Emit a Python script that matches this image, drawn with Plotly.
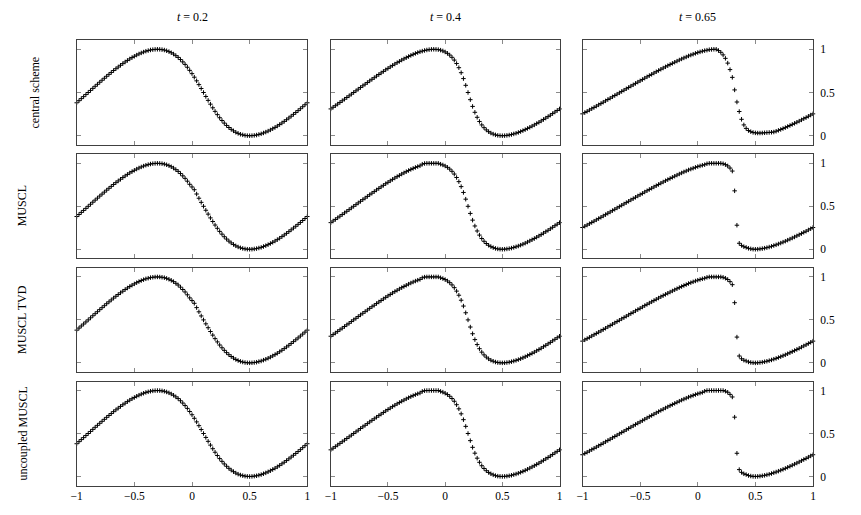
import plotly.graph_objects as go

# ---------------- data ----------------
X = [-1.00, -0.98, -0.96, -0.94, -0.92, -0.90, -0.88, -0.86, -0.84, -0.82,
     -0.80, -0.78, -0.76, -0.74, -0.72, -0.70, -0.68, -0.66, -0.64, -0.62,
     -0.60, -0.58, -0.56, -0.54, -0.52, -0.50, -0.48, -0.46, -0.44, -0.42,
     -0.40, -0.38, -0.36, -0.34, -0.32, -0.30, -0.28, -0.26, -0.24, -0.22,
     -0.20, -0.18, -0.16, -0.14, -0.12, -0.10, -0.08, -0.06, -0.04, -0.02,
     0.00, 0.02, 0.04, 0.06, 0.08, 0.10, 0.12, 0.14, 0.16, 0.18,
     0.20, 0.22, 0.24, 0.26, 0.28, 0.30, 0.32, 0.34, 0.36, 0.38,
     0.40, 0.42, 0.44, 0.46, 0.48, 0.50, 0.52, 0.54, 0.56, 0.58,
     0.60, 0.62, 0.64, 0.66, 0.68, 0.70, 0.72, 0.74, 0.76, 0.78,
     0.80, 0.82, 0.84, 0.86, 0.88, 0.90, 0.92, 0.94, 0.96, 0.98,
     1.00]

U_T02 = [0.381, 0.405, 0.429, 0.452, 0.476, 0.500, 0.524, 0.548, 0.572, 0.595,
         0.619, 0.642, 0.665, 0.688, 0.710, 0.732, 0.754, 0.775, 0.795, 0.815,
         0.834, 0.853, 0.871, 0.888, 0.904, 0.919, 0.933, 0.946, 0.958, 0.968,
         0.978, 0.985, 0.992, 0.996, 0.999, 1.000, 0.999, 0.996, 0.991, 0.983,
         0.973, 0.960, 0.945, 0.926, 0.906, 0.881, 0.854, 0.825, 0.792, 0.756,
         0.718, 0.677, 0.635, 0.591, 0.546, 0.500, 0.454, 0.409, 0.365, 0.323,
         0.282, 0.244, 0.208, 0.176, 0.146, 0.119, 0.095, 0.074, 0.056, 0.040,
         0.027, 0.017, 0.010, 0.004, 0.001, 0.000, 0.001, 0.004, 0.008, 0.015,
         0.022, 0.032, 0.042, 0.054, 0.067, 0.081, 0.096, 0.112, 0.129, 0.147,
         0.166, 0.185, 0.205, 0.226, 0.247, 0.268, 0.290, 0.312, 0.335, 0.358,
         0.381]

U_T04 = [0.310, 0.329, 0.347, 0.366, 0.385, 0.404, 0.423, 0.442, 0.461, 0.481,
         0.500, 0.519, 0.539, 0.558, 0.577, 0.596, 0.615, 0.634, 0.653, 0.671,
         0.690, 0.708, 0.726, 0.744, 0.762, 0.779, 0.796, 0.813, 0.829, 0.845,
         0.860, 0.875, 0.889, 0.903, 0.916, 0.929, 0.941, 0.952, 0.962, 0.971,
         0.979, 0.986, 0.992, 0.996, 0.999, 1.000, 0.999, 0.996, 0.990, 0.981,
         0.969, 0.953, 0.933, 0.907, 0.875, 0.835, 0.787, 0.729, 0.661, 0.583,
         0.500, 0.417, 0.339, 0.271, 0.213, 0.165, 0.125, 0.093, 0.067, 0.047,
         0.031, 0.019, 0.010, 0.004, 0.001, 0.000, 0.001, 0.004, 0.008, 0.014,
         0.021, 0.029, 0.038, 0.048, 0.059, 0.071, 0.084, 0.097, 0.111, 0.125,
         0.140, 0.155, 0.171, 0.188, 0.204, 0.221, 0.238, 0.256, 0.274, 0.292,
         0.310]

U_T065 = [0.253, 0.268, 0.282, 0.297, 0.312, 0.327, 0.342, 0.357, 0.372, 0.388,
          0.403, 0.419, 0.434, 0.450, 0.465, 0.481, 0.496, 0.512, 0.527, 0.543,
          0.558, 0.574, 0.589, 0.605, 0.620, 0.635, 0.650, 0.666, 0.681, 0.696,
          0.710, 0.725, 0.740, 0.754, 0.769, 0.783, 0.797, 0.810, 0.824, 0.837,
          0.850, 0.863, 0.876, 0.888, 0.900, 0.911, 0.923, 0.933, 0.943, 0.953,
          0.962, 0.970, 0.978, 0.984, 0.990, 0.995, 0.998, 1.000, 1.000, 0.997,
          0.992, 0.984, 0.971, 0.951, 0.921, 0.871, 0.759, 0.170, 0.101, 0.062,
          0.038, 0.022, 0.011, 0.005, 0.001, 0.000, 0.001, 0.004, 0.008, 0.013,
          0.019, 0.026, 0.034, 0.043, 0.052, 0.062, 0.072, 0.083, 0.094, 0.106,
          0.118, 0.131, 0.143, 0.156, 0.169, 0.183, 0.197, 0.210, 0.225, 0.239,
          0.253]

# scheme-specific values where the rows differ (x -> u)
MUSCL_T02 = {0.00: 0.725, 0.02: 0.693, 0.04: 0.643, 0.06: 0.594}
CENTRAL_T065 = {0.18: 0.985, 0.20: 0.965, 0.22: 0.935, 0.24: 0.895, 0.26: 0.840,
                0.28: 0.765, 0.30: 0.675, 0.32: 0.530, 0.34: 0.390, 0.36: 0.280,
                0.38: 0.190, 0.40: 0.125, 0.42: 0.085, 0.44: 0.060, 0.46: 0.047,
                0.48: 0.038, 0.50: 0.033, 0.52: 0.031, 0.54: 0.031, 0.56: 0.032,
                0.58: 0.034, 0.60: 0.036, 0.62: 0.038, 0.64: 0.040}
MUSCL_T04 = {-0.20: 0.990, -0.18: 0.998, -0.16: 1.000, -0.14: 1.000, -0.12: 1.000,
             -0.10: 1.000, -0.08: 1.000, -0.06: 1.000}
MUSCL_T065 = {0.08: 0.995, 0.10: 1.000, 0.12: 1.000, 0.14: 1.000, 0.16: 1.000,
              0.18: 1.000, 0.20: 1.000, 0.22: 0.995, 0.24: 0.985, 0.26: 0.970,
              0.28: 0.945, 0.30: 0.910, 0.32: 0.680, 0.34: 0.280, 0.36: 0.070,
              0.38: 0.045, 0.40: 0.030}
TVD_T065 = {0.08: 0.995, 0.10: 1.000, 0.12: 1.000, 0.14: 1.000, 0.16: 1.000,
            0.18: 1.000, 0.20: 1.000, 0.22: 0.995, 0.24: 0.985, 0.26: 0.970,
            0.28: 0.945, 0.30: 0.910, 0.32: 0.700, 0.34: 0.300, 0.36: 0.080,
            0.38: 0.048, 0.40: 0.031}
UNCOUPLED_T065 = {0.06: 0.992, 0.08: 1.000, 0.10: 1.000, 0.12: 1.000, 0.14: 1.000,
                  0.16: 1.000, 0.18: 1.000, 0.20: 1.000, 0.22: 1.000, 0.24: 0.992,
                  0.26: 0.980, 0.28: 0.955, 0.30: 0.925, 0.32: 0.690, 0.34: 0.270,
                  0.36: 0.080, 0.38: 0.048, 0.40: 0.031}

ROW_LABELS = ["central scheme", "MUSCL", "MUSCL TVD", "uncoupled MUSCL"]
COL_TITLES = ["<i>t</i> = 0.2", "<i>t</i> = 0.4", "<i>t</i> = 0.65"]
X_TICKS = [-1, -0.5, 0, 0.5, 1]
X_TICK_TEXT = ["\u22121", "\u22120.5", "0", "0.5", "1"]
Y_TICKS = [0, 0.5, 1]
Y_TICK_TEXT = ["0", "0.5", "1"]

BASE = [U_T02, U_T04, U_T065]
OVERRIDES = [
    [{}, {}, CENTRAL_T065],
    [MUSCL_T02, MUSCL_T04, MUSCL_T065],
    [MUSCL_T02, MUSCL_T04, TVD_T065],
    [{}, MUSCL_T04, UNCOUPLED_T065],
]


def panel_values(base, over):
    vals = list(base)
    for i, x in enumerate(X):
        key = round(x, 2)
        if key in over:
            vals[i] = over[key]
    return vals


# ---------------- layout geometry ----------------
# page body has an 8px default margin; the figure is sized to fit inside it
OFF = 8
W, H = 861 - 2 * OFF, 515 - 2 * OFF
col_px = [(76.7, 307.3), (330.8, 559.5), (582.5, 813.0)]
row_px = [(40.2, 144.8), (154.3, 258.3), (267.9, 371.9), (381.5, 485.5)]


def px_x(p):
    return (p - OFF) / W


def px_y(p):
    return 1 - (p - OFF) / H


fig = go.Figure()
FONT = "Liberation Serif, Times New Roman, serif"

layout = dict(
    width=W, height=H,
    margin=dict(l=0, r=0, t=0, b=0, pad=0),
    paper_bgcolor="white", plot_bgcolor="white",
    showlegend=False,
    font=dict(family=FONT, size=11, color="black"),
)

for r in range(4):
    for c in range(3):
        k = r * 3 + c + 1
        xa = "xaxis" if k == 1 else f"xaxis{k}"
        ya = "yaxis" if k == 1 else f"yaxis{k}"
        xref = "x" if k == 1 else f"x{k}"
        yref = "y" if k == 1 else f"y{k}"
        x0, x1 = col_px[c]
        y0, y1 = row_px[r]
        layout[xa] = dict(
            domain=[px_x(x0), px_x(x1)], range=[-1, 1], anchor=yref,
            showgrid=False, zeroline=False, showline=True, linecolor="#404040",
            linewidth=1, mirror="ticks", ticks="inside", ticklen=4,
            tickcolor="#8a8a8a", tickwidth=1, tickvals=X_TICKS,
            ticktext=X_TICK_TEXT, showticklabels=(r == 3), automargin=False,
            tickfont=dict(family=FONT, size=11.5, color="black"),
        )
        layout[ya] = dict(
            domain=[px_y(y1), px_y(y0)], range=[-0.105, 1.105], anchor=xref,
            showgrid=False, zeroline=False, showline=True, linecolor="#404040",
            linewidth=1, mirror="ticks", ticks="inside", ticklen=4,
            tickcolor="#8a8a8a", tickwidth=1, tickvals=Y_TICKS,
            ticktext=Y_TICK_TEXT, showticklabels=(c == 2), side="right",
            tickfont=dict(family=FONT, size=11.5, color="black"),
            ticklabelstandoff=4, automargin=False,
        )
        fig.add_trace(go.Scatter(
            x=X, y=panel_values(BASE[c], OVERRIDES[r][c]),
            mode="markers", xaxis=xref, yaxis=yref, cliponaxis=False,
            marker=dict(symbol="cross-thin", size=3.2,
                        line=dict(width=1, color="black"), color="black"),
            hoverinfo="skip",
        ))

annotations = []
for c, title in enumerate(COL_TITLES):
    x0, x1 = col_px[c]
    annotations.append(dict(
        text=title, x=px_x((x0 + x1) / 2), y=px_y(17), xref="paper", yref="paper",
        showarrow=False, xanchor="center", yanchor="middle",
        font=dict(family=FONT, size=12, color="black"),
    ))
label_x = [34, 22, 22, 22]
for r, lab in enumerate(ROW_LABELS):
    y0, y1 = row_px[r]
    annotations.append(dict(
        text=lab, x=px_x(label_x[r]), y=px_y((y0 + y1) / 2), xref="paper",
        yref="paper", showarrow=False, textangle=-90, xanchor="center",
        yanchor="middle", font=dict(family=FONT, size=12, color="black"),
    ))
layout["annotations"] = annotations

fig.update_layout(**layout)
fig.write_html("out.html")
